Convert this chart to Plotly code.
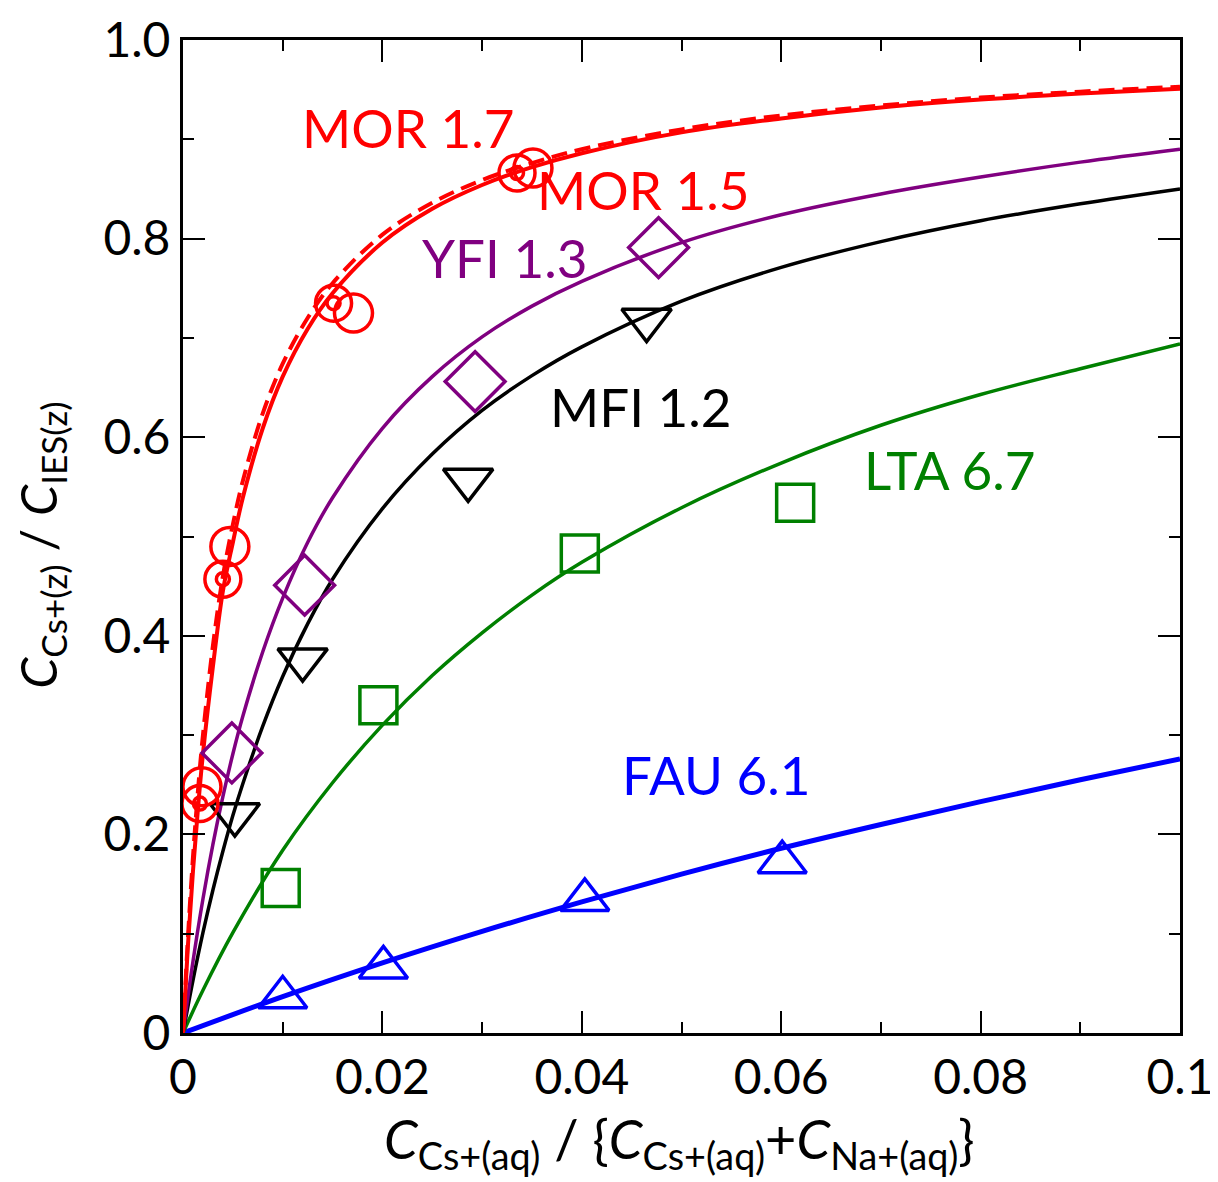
import plotly.graph_objects as go

# ---------------- data ----------------
# fitted curves
curve_x_mor = [0, 0.0005, 0.001, 0.0015, 0.002, 0.003, 0.004, 0.005, 0.006, 0.008, 0.010,
               0.0125, 0.015, 0.02, 0.025, 0.03, 0.035, 0.04, 0.05, 0.06, 0.07, 0.08, 0.09, 0.1]
mor17_curve = [0, 0.089, 0.163, 0.226, 0.281, 0.369, 0.445, 0.494, 0.539, 0.609, 0.661,
               0.709, 0.745, 0.796, 0.830, 0.854, 0.872, 0.886, 0.907, 0.921, 0.932, 0.940, 0.946, 0.951]
mor15_curve = [0, 0.097, 0.177, 0.244, 0.300, 0.390, 0.460, 0.512, 0.556, 0.624, 0.674,
               0.720, 0.755, 0.804, 0.836, 0.859, 0.876, 0.890, 0.910, 0.924, 0.934, 0.942, 0.948, 0.953]

curve_x_mid = [0, 0.001, 0.002, 0.003, 0.004, 0.005, 0.006, 0.008, 0.010, 0.0125, 0.015,
               0.02, 0.025, 0.03, 0.035, 0.04, 0.05, 0.06, 0.07, 0.08, 0.09, 0.1]
yfi_curve = [0, 0.072, 0.135, 0.190, 0.238, 0.281, 0.319, 0.384, 0.438, 0.494, 0.539,
             0.609, 0.661, 0.701, 0.732, 0.757, 0.796, 0.824, 0.845, 0.862, 0.877, 0.890]
mfi_curve = [0, 0.053, 0.101, 0.144, 0.183, 0.219, 0.251, 0.309, 0.359, 0.412, 0.457,
             0.528, 0.583, 0.627, 0.662, 0.691, 0.737, 0.771, 0.797, 0.818, 0.835, 0.850]

curve_x_lta = [0, 0.002, 0.005, 0.01, 0.015, 0.02, 0.025, 0.03, 0.035, 0.04, 0.05,
               0.06, 0.07, 0.08, 0.09, 0.1]
lta_curve = [0, 0.043, 0.101, 0.184, 0.252, 0.310, 0.360, 0.403, 0.441, 0.474, 0.529,
             0.574, 0.612, 0.643, 0.669, 0.694]

curve_x_fau = [0, 0.01, 0.02, 0.03, 0.04, 0.05, 0.06, 0.07, 0.08, 0.09, 0.1]
fau_curve = [0, 0.0366, 0.0706, 0.1023, 0.132, 0.160, 0.186, 0.210, 0.233, 0.255, 0.276]

# measured points
mor17_x = [0.0017, 0.0040, 0.0151, 0.0335]
mor17_y = [0.231, 0.457, 0.735, 0.866]
mor15_x = [0.0019, 0.0047, 0.0171, 0.0351]
mor15_y = [0.248, 0.490, 0.725, 0.871]
yfi_x = [0.0049, 0.0122, 0.0293, 0.0477]
yfi_y = [0.282, 0.451, 0.656, 0.791]
mfi_x = [0.0052, 0.0120, 0.0286, 0.0465]
mfi_y = [0.220, 0.376, 0.557, 0.718]
lta_x = [0.0098, 0.0196, 0.0398, 0.0614]
lta_y = [0.146, 0.330, 0.483, 0.534]
fau_x = [0.0100, 0.0201, 0.0403, 0.0601]
fau_y = [0.036, 0.066, 0.134, 0.172]

x_tickvals = [0, 0.02, 0.04, 0.06, 0.08, 0.1]
x_ticktext = ["0", "0.02", "0.04", "0.06", "0.08", "0.1"]
y_tickvals = [0, 0.2, 0.4, 0.6, 0.8, 1.0]
y_ticktext = ["0", "0.2", "0.4", "0.6", "0.8", "1.0"]

RED = "#ff0000"
PURPLE = "#800080"
BLACK = "#000000"
GREEN = "#008000"
BLUE = "#0000ff"
FONT = "Lato"

fig = go.Figure()

# curves
fig.add_trace(go.Scatter(x=curve_x_fau, y=fau_curve, mode="lines", line=dict(color=BLUE, width=5, shape="spline")))
fig.add_trace(go.Scatter(x=curve_x_lta, y=lta_curve, mode="lines", line=dict(color=GREEN, width=3.5, shape="spline")))
fig.add_trace(go.Scatter(x=curve_x_mid, y=mfi_curve, mode="lines", line=dict(color=BLACK, width=3.5, shape="spline")))
fig.add_trace(go.Scatter(x=curve_x_mid, y=yfi_curve, mode="lines", line=dict(color=PURPLE, width=3.5, shape="spline")))
fig.add_trace(go.Scatter(x=curve_x_mor, y=mor15_curve, mode="lines",
                         line=dict(color=RED, width=4, dash="16px,8px", shape="spline")))
fig.add_trace(go.Scatter(x=curve_x_mor, y=mor17_curve, mode="lines", line=dict(color=RED, width=4, shape="spline")))


# markers
def pts(x, y, symbol, size, color, width=3.5):
    fig.add_trace(go.Scatter(x=x, y=y, mode="markers", cliponaxis=False,
                             marker=dict(symbol=symbol, size=size, color=color,
                                         line=dict(color=color, width=width))))


pts(fau_x, fau_y, "triangle-up-open", 42, BLUE)
pts(lta_x, lta_y, "square-open", 37, GREEN)
pts(mfi_x, mfi_y, "triangle-down-open", 43, BLACK)
pts(yfi_x, yfi_y, "diamond-open", 46, PURPLE)
pts(mor15_x, mor15_y, "circle-open", 38, RED)
pts(mor17_x, mor17_y, "circle-open", 36, RED)
pts(mor17_x, mor17_y, "circle-open", 13, RED)

# labels
labels = [
    ("MOR 1.7", 0.01174, 0.912, RED),
    ("MOR 1.5", 0.0353, 0.849, RED),
    ("YFI 1.3", 0.0238, 0.781, PURPLE),
    ("MFI 1.2", 0.0366, 0.631, BLACK),
    ("LTA 6.7", 0.0681, 0.567, GREEN),
    ("FAU 6.1", 0.0438, 0.260, BLUE),
]
for txt, lx, ly, col in labels:
    fig.add_annotation(x=lx, y=ly, xref="x", yref="y", text=txt, showarrow=False,
                       xanchor="left", yanchor="middle",
                       font=dict(family=FONT, size=53, color=col))

# axis titles
fig.add_annotation(x=0.498, y=-0.110, xref="paper", yref="paper", showarrow=False,
                   xanchor="center", yanchor="middle",
                   text="<i>C</i><sub>Cs+(aq)</sub> / {<i>C</i><sub>Cs+(aq)</sub>+<i>C</i><sub>Na+(aq)</sub>}",
                   font=dict(family=FONT, size=54, color=BLACK))
fig.add_annotation(x=-0.142, y=0.492, xref="paper", yref="paper", showarrow=False,
                   xanchor="center", yanchor="middle", textangle=-90,
                   text="<i>C</i><sub>Cs+(z)</sub> / <i>C</i><sub>IES(z)</sub>",
                   font=dict(family=FONT, size=50, color=BLACK))

axis_common = dict(showgrid=False, zeroline=False, showline=True, linecolor=BLACK, linewidth=3,
                   mirror="allticks", ticks="inside", ticklen=22, tickwidth=2, tickcolor=BLACK,
                   automargin=False,
                   tickfont=dict(family=FONT, size=48, color=BLACK))

fig.update_xaxes(range=[0, 0.1], tickvals=x_tickvals, ticktext=x_ticktext,
                 minor=dict(dtick=0.01, tick0=0, ticks="inside", ticklen=11, tickwidth=2, tickcolor=BLACK),
                 **axis_common)
fig.update_yaxes(range=[0, 1.0], tickvals=y_tickvals, ticktext=y_ticktext,
                 minor=dict(dtick=0.1, tick0=0, ticks="inside", ticklen=11, tickwidth=2, tickcolor=BLACK),
                 **axis_common)

# page body adds an 8px offset, so the figure is sized to fit the window
fig.update_layout(width=1210, height=1174, showlegend=False,
                  margin=dict(l=175, r=38, t=32, b=149),
                  plot_bgcolor="white", paper_bgcolor="white")

fig.write_html("out.html")
